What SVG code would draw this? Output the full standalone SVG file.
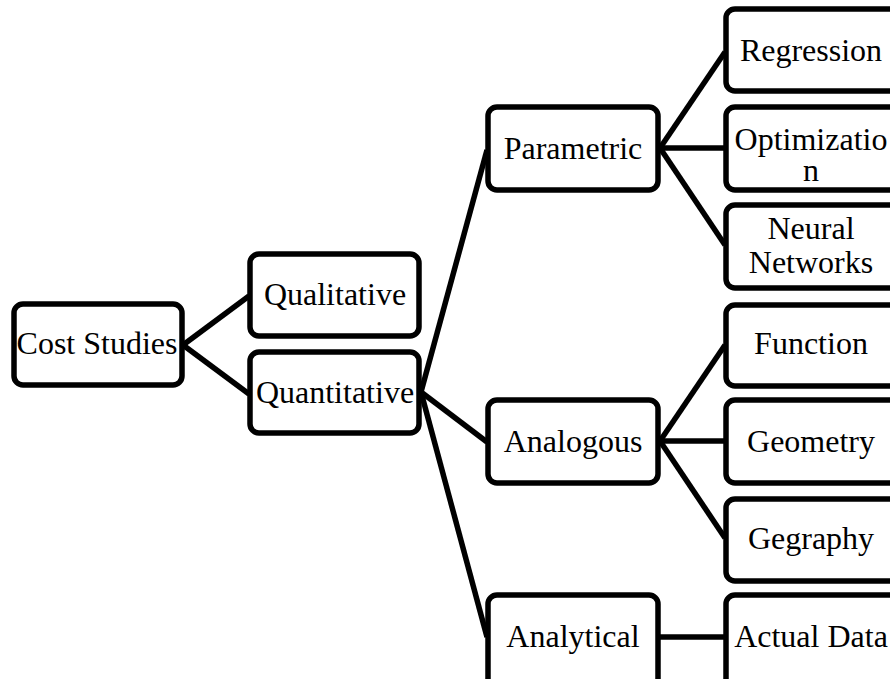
<svg xmlns="http://www.w3.org/2000/svg" width="890" height="679" viewBox="0 0 890 679">
<style>
.box{fill:#fff;stroke:#000;stroke-width:5.5}
.t{font-family:'Liberation Serif','Times New Roman',Times,'DejaVu Serif',serif;font-size:32px;fill:#000;text-anchor:middle}
.c line{stroke:#000;stroke-width:5.5}
</style>
<rect width="890" height="679" fill="#fff"/>
<g class="c" id="connectors">
<line x1="183" y1="345" x2="249" y2="296"/>
<line x1="183" y1="345" x2="249" y2="394"/>
<line x1="421" y1="392" x2="487" y2="150"/>
<line x1="421" y1="392" x2="487" y2="442"/>
<line x1="421" y1="392" x2="487" y2="637"/>
<line x1="660" y1="148" x2="725" y2="52"/>
<line x1="660" y1="148" x2="725" y2="148"/>
<line x1="660" y1="148" x2="725" y2="245"/>
<line x1="660" y1="441" x2="725" y2="345"/>
<line x1="660" y1="441" x2="725" y2="441"/>
<line x1="660" y1="441" x2="725" y2="538"/>
<line x1="660" y1="637" x2="725" y2="637"/>
</g>
<g id="cost"><rect class="box" x="14" y="304" width="168" height="81" rx="9"/><text class="t" x="97" y="354">Cost Studies</text></g>
<g id="qualitative"><rect class="box" x="250" y="254" width="169" height="82" rx="9"/><text class="t" x="335" y="305">Qualitative</text></g>
<g id="quantitative"><rect class="box" x="250" y="352" width="169" height="81" rx="9"/><text class="t" x="335" y="403">Quantitative</text></g>
<g id="parametric"><rect class="box" x="488" y="107" width="170" height="83" rx="9"/><text class="t" x="573" y="159">Parametric</text></g>
<g id="analogous"><rect class="box" x="488" y="400" width="170" height="83" rx="9"/><text class="t" x="573" y="452">Analogous</text></g>
<g id="analytical"><rect class="box" x="488" y="595" width="170" height="95" rx="9"/><text class="t" x="573" y="647">Analytical</text></g>
<g id="regression"><rect class="box" x="726" y="9" width="172" height="82" rx="9"/><text class="t" x="811" y="61">Regression</text></g>
<g id="optimization"><rect class="box" x="726" y="107" width="172" height="83" rx="9"/><text class="t" x="811" y="150">Optimizatio</text><text class="t" x="811" y="181">n</text></g>
<g id="neural"><rect class="box" x="726" y="205" width="172" height="83" rx="9"/><text class="t" x="811" y="239">Neural</text><text class="t" x="811" y="273">Networks</text></g>
<g id="function"><rect class="box" x="726" y="305" width="172" height="81" rx="9"/><text class="t" x="811" y="354">Function</text></g>
<g id="geometry"><rect class="box" x="726" y="400" width="172" height="83" rx="9"/><text class="t" x="811" y="452">Geometry</text></g>
<g id="gegraphy"><rect class="box" x="726" y="499" width="172" height="82" rx="9"/><text class="t" x="811" y="549">Gegraphy</text></g>
<g id="actual"><rect class="box" x="726" y="595" width="172" height="95" rx="9"/><text class="t" x="811" y="647">Actual Data</text></g>
</svg>
